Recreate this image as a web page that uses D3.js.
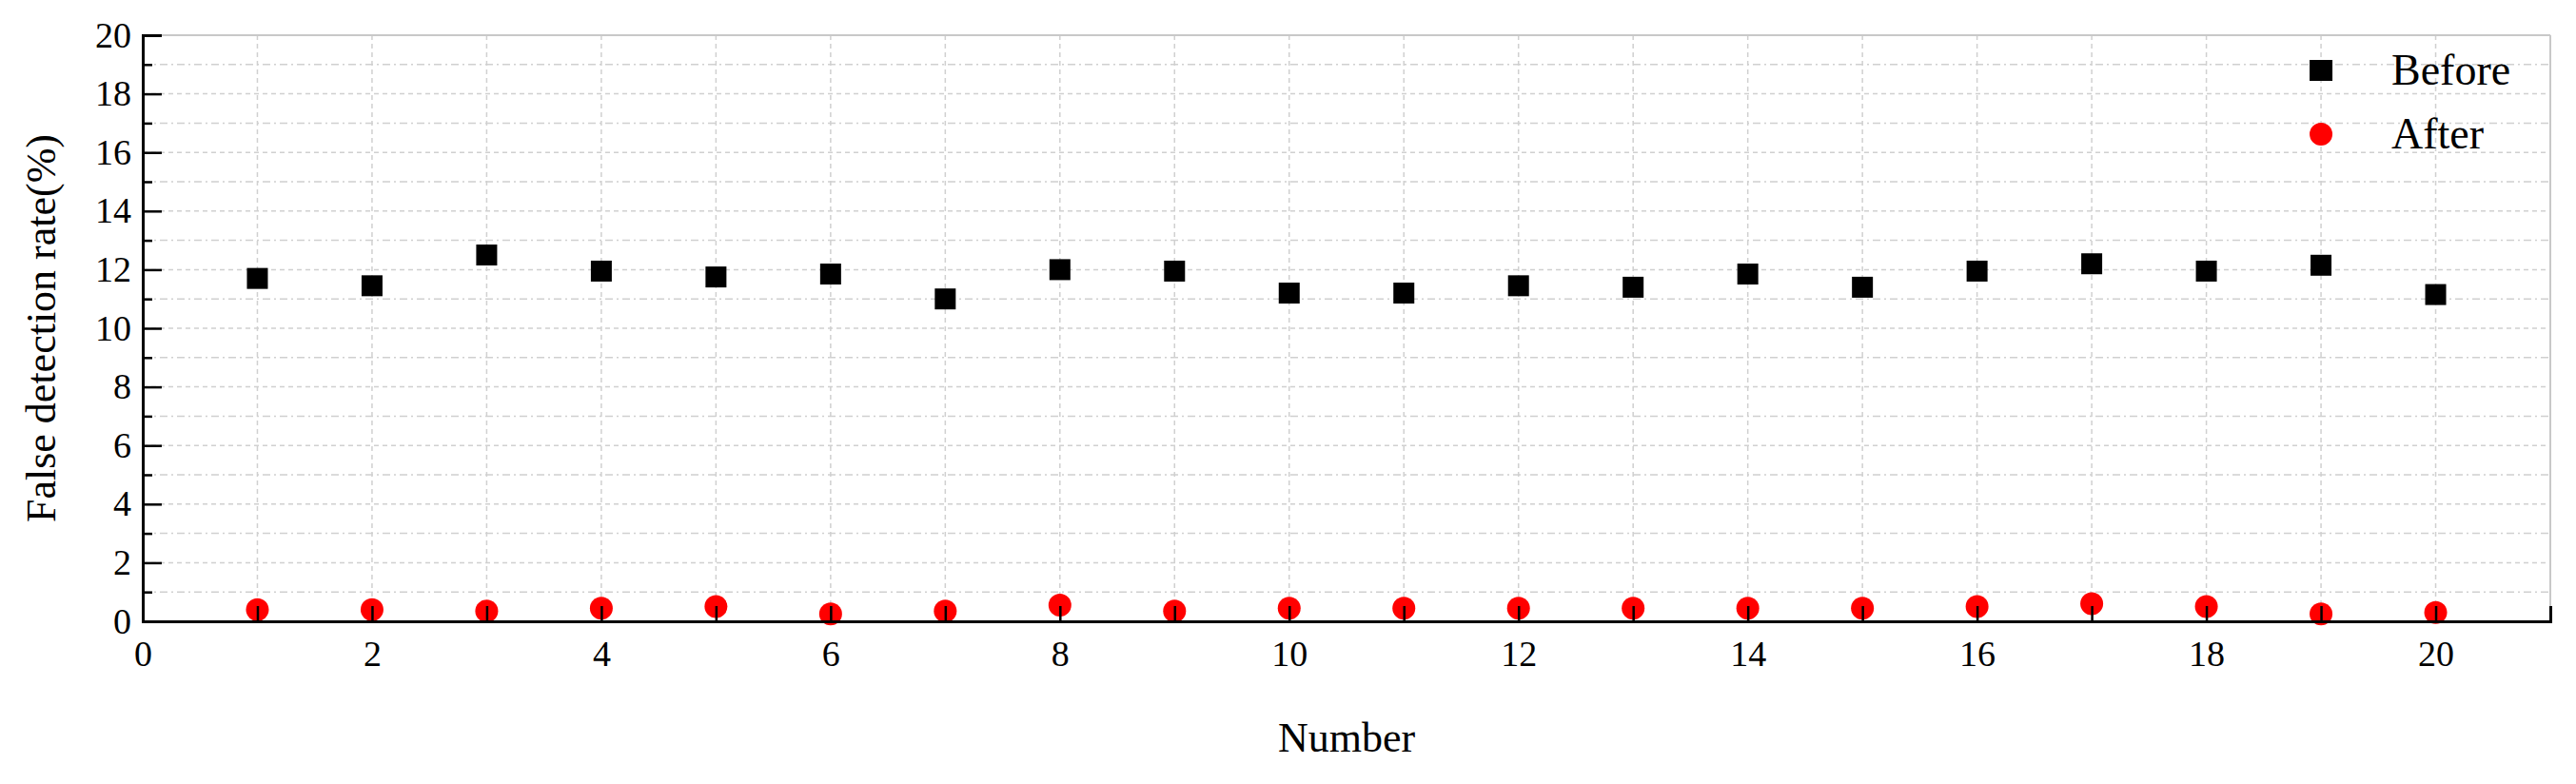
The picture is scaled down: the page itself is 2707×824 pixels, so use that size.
<!DOCTYPE html>
<html><head><meta charset="utf-8">
<script src="https://cdn.jsdelivr.net/npm/d3@7"></script>
<style>body{margin:0;background:#fff}svg{font-family:"Liberation Serif","Times New Roman",serif}</style>
</head><body><svg id="c" width="2707" height="824"></svg>
<script>
var numbers = d3.range(1, 21);
var before = [11.7, 11.45, 12.5, 11.95, 11.75, 11.85, 11.0, 12.0, 11.95, 11.2, 11.2, 11.45, 11.4, 11.85, 11.4, 11.95, 12.2, 11.95, 12.15, 11.15];
var after = [0.4, 0.4, 0.35, 0.45, 0.5, 0.25, 0.35, 0.55, 0.35, 0.45, 0.45, 0.45, 0.45, 0.45, 0.45, 0.5, 0.6, 0.5, 0.25, 0.3];
var xTicks = d3.range(0, 21, 2);
var yTicks = d3.range(0, 21, 2);

var svg = d3.select('#c');
var L = 150, R = 2680, T = 37, B = 653;
var x = d3.scaleLinear().domain([0, 21]).range([L, R]);
var y = d3.scaleLinear().domain([0, 20]).range([B, T]);

// grid
var g = svg.append('g');
g.selectAll('.hg').data(d3.range(1, 21)).enter().append('line')
  .attr('x1', L).attr('x2', R).attr('y1', y).attr('y2', y)
  .attr('stroke', '#d0d0d0').attr('stroke-width', 1.5)
  .attr('stroke-dasharray', function (d) { return d % 2 ? '8,4,2,4' : '5,4'; });
g.selectAll('.vg').data(d3.range(1, 21)).enter().append('line')
  .attr('y1', T).attr('y2', B).attr('x1', x).attr('x2', x)
  .attr('stroke', '#d0d0d0').attr('stroke-width', 1.5).attr('stroke-dasharray', '5,4');

// frame
svg.append('line').attr('x1', L).attr('x2', R).attr('y1', T).attr('y2', T).attr('stroke', '#c8c8c8').attr('stroke-width', 2);
svg.append('line').attr('x1', R).attr('x2', R).attr('y1', T).attr('y2', B).attr('stroke', '#c8c8c8').attr('stroke-width', 2);

// marks
svg.selectAll('.b').data(before).enter().append('rect')
  .attr('x', function (d, i) { return x(numbers[i]) - 11; })
  .attr('y', function (d) { return y(d) - 11; })
  .attr('width', 22).attr('height', 22).attr('fill', '#000');
svg.selectAll('.a').data(after).enter().append('circle')
  .attr('cx', function (d, i) { return x(numbers[i]); })
  .attr('cy', function (d) { return y(d); })
  .attr('r', 12).attr('fill', '#ff0000');

// axes
var xa = svg.append('g').attr('transform', 'translate(0,' + B + ')')
  .call(d3.axisBottom(x).tickValues(d3.range(0, 22)).tickSize(-16).tickPadding(20)
    .tickFormat(function (d) { return xTicks.indexOf(d) >= 0 ? d : ''; }));
xa.selectAll('line').attr('stroke-width', 2.5);
var ya = svg.append('g').attr('transform', 'translate(' + L + ',0)')
  .call(d3.axisLeft(y).tickValues(d3.range(0, 21)).tickSize(-20).tickPadding(12)
    .tickFormat(function (d) { return yTicks.indexOf(d) >= 0 ? d : ''; }));
ya.selectAll('.tick line').attr('stroke-width', 2.5)
  .attr('x2', function (d) { return d % 2 ? 10 : 20; });
[xa, ya].forEach(function (a) {
  a.select('.domain').attr('stroke', '#000').attr('stroke-width', 3);
  a.selectAll('text').attr('font-size', 38).attr('font-family', 'Liberation Serif').attr('fill', '#000');
});

// titles
svg.append('text').attr('x', (L + R) / 2).attr('y', 790).attr('text-anchor', 'middle')
  .attr('font-size', 44).text('Number');
svg.append('text').attr('transform', 'translate(58,' + (T + B) / 2 + ') rotate(-90)')
  .attr('text-anchor', 'middle').attr('font-size', 44).text('False detection rate(%)');

// legend
svg.append('rect').attr('x', x(19) - 12).attr('y', 63).attr('width', 24).attr('height', 22).attr('fill', '#000');
svg.append('circle').attr('cx', x(19)).attr('cy', 141).attr('r', 12).attr('fill', '#ff0000');
svg.append('text').attr('x', 2513).attr('y', 89).attr('font-size', 46).text('Before');
svg.append('text').attr('x', 2513).attr('y', 156).attr('font-size', 46).text('After');
</script></body></html>
